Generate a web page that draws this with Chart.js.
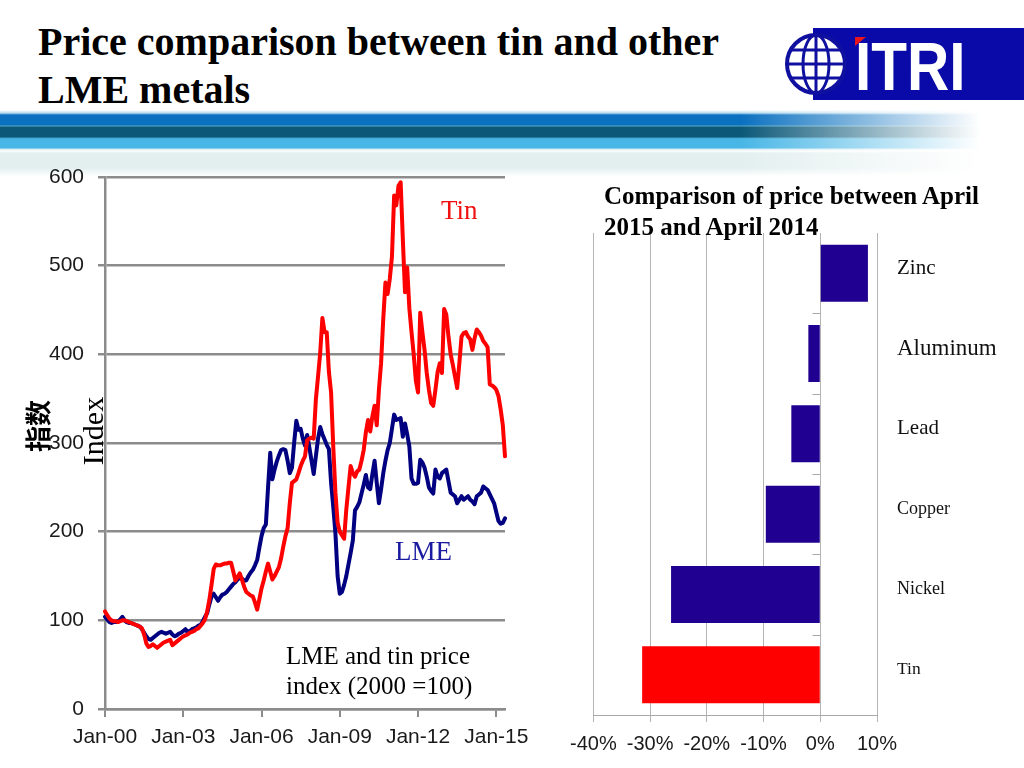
<!DOCTYPE html>
<html>
<head>
<meta charset="utf-8">
<script src="https://cdn.jsdelivr.net/npm/chart.js@4/dist/chart.umd.min.js"></script>
<style>
  body { margin: 0; background: #fff; }
  #slide { position: relative; width: 1024px; height: 768px; overflow: hidden; background: #fff; }
  .abs { position: absolute; white-space: nowrap; }
  .rot { transform: translate(-50%, -50%) rotate(-90deg); }
</style>
</head>
<body>
<div id="slide">
  <!-- header stripes -->
  <div class="abs" style="left:0;top:110px;width:1024px;height:66px;background:linear-gradient(to bottom,#fff 0px,#b8dcef 3px,#0a70c0 5px,#0a70c0 15px,#5aaac8 16px,#0b5878 17px,#0b5878 27px,#3ca0c8 28px,#48b6e6 29px,#48b6e6 38px,#cfe8f0 39px,#fff 41px,#e3efef 43px,#e3efef 58px,#fff 66px)"></div>
  <div class="abs" style="left:0;top:110px;width:1024px;height:66px;background:linear-gradient(to right,rgba(255,255,255,0) 0px,rgba(255,255,255,0) 740px,#fff 980px)"></div>

  <div class="abs" style="left:38px;top:18px;font:bold 40px 'Liberation Serif',serif;line-height:48px;color:#000">Price comparison between tin and other<br>LME metals</div>

  <!-- logo -->
  <div class="abs" style="left:813px;top:28px;width:211px;height:72px;background:#0a0aa8"></div>
  <div class="abs" style="left:855px;top:30px;font:bold 68px 'Liberation Sans',sans-serif;line-height:72px;color:#fff;transform:scaleX(0.86);transform-origin:left">ITRI</div>
  <div class="abs" style="left:855px;top:37px;width:0;height:0;border-left:11px solid #e8141e;border-bottom:9px solid transparent"></div>
  <svg class="abs" style="left:783px;top:31px" width="66" height="66" viewBox="0 0 66 66">
    <circle cx="33" cy="33" r="29" fill="#fff" stroke="#1010a0" stroke-width="4"/>
    <ellipse cx="33" cy="33" rx="13" ry="29" fill="none" stroke="#1010a0" stroke-width="3"/>
    <line x1="33" y1="4" x2="33" y2="62" stroke="#1010a0" stroke-width="3"/>
    <line x1="4" y1="33" x2="62" y2="33" stroke="#1010a0" stroke-width="3"/>
    <line x1="9" y1="19" x2="57" y2="19" stroke="#1010a0" stroke-width="3"/>
    <line x1="9" y1="47" x2="57" y2="47" stroke="#1010a0" stroke-width="3"/>
  </svg>

  <canvas id="lineChart" class="abs" width="540" height="608" style="left:0;top:160px"></canvas>
  <canvas id="barChart" class="abs" width="464" height="598" style="left:560px;top:170px"></canvas>

  <!-- left chart texts -->
  <div class="abs" style="left:441px;top:197px;font:27px 'Liberation Serif',serif;line-height:27px;color:#f01010">Tin</div>
  <div class="abs" style="left:395px;top:538px;font:27px 'Liberation Serif',serif;line-height:27px;color:#1a1aa0">LME</div>
  <div class="abs" style="left:286px;top:641px;font:25px 'Liberation Serif',serif;line-height:30px;color:#000">LME and tin price<br>index (2000 =100)</div>
  <div class="abs rot" style="left:37px;top:426px;font:bold 26px 'Noto Sans CJK SC',sans-serif;line-height:26px;color:#000">指数</div>
  <div class="abs rot" style="left:93px;top:431px;font:30px 'Liberation Serif',serif;line-height:30px;color:#000">Index</div>

  <!-- right chart title -->
  <div class="abs" style="left:604px;top:180px;font:bold 25px 'Liberation Serif',serif;line-height:31px;color:#000">Comparison of price between April<br>2015 and April 2014</div>
</div>

<script>
// index values, 2000 = 100, monthly Jan-00 .. May-15
const years = ['00','01','02','03','04','05','06','07','08','09','10','11','12','13','14','15'];
const monthNames = ['Jan','Feb','Mar','Apr','May','Jun','Jul','Aug','Sep','Oct','Nov','Dec'];

const tinIndex = [
  110,106,102,100,99,99,98,99,100,100,99,98,
  97,96,95,94,93,91,84,74,70,71,73,71,
  69,71,73,75,76,77,78,72,74,76,78,80,
  82,83,84,86,87,88,90,91,94,97,101,110,
  123,140,158,163,162,162,163,164,164,165,165,155,
  145,149,153,146,138,132,130,128,127,120,112,124,
  136,145,155,164,155,146,150,155,160,170,183,195,
  204,232,255,257,259,266,274,280,285,303,305,306,
  305,349,375,402,441,425,425,380,357,296,244,210,
  200,196,192,225,250,274,266,262,268,270,280,292,
  312,326,313,330,342,320,360,390,440,481,468,485,
  510,579,568,590,594,530,470,498,452,425,400,370,
  357,447,425,405,379,360,345,342,360,380,390,379,
  451,445,420,400,388,375,362,390,420,424,425,420,
  417,405,418,428,425,421,415,412,408,366,365,363,
  360,353,338,320,285
];

const lmeIndex = [
  104,101,98,97,98,98,99,101,104,100,98,97,
  97,96,95,94,93,90,86,82,79,78,80,82,
  84,86,87,86,85,86,87,84,82,83,85,86,
  88,90,87,88,90,91,92,94,95,99,104,108,
  118,127,130,126,122,126,129,130,132,135,138,141,
  143,146,148,147,145,145,150,154,157,162,168,182,
  195,204,208,250,289,259,270,279,286,292,293,292,
  280,266,272,300,325,315,316,305,297,309,295,280,
  265,285,305,318,310,304,298,293,255,228,198,150,
  130,132,140,150,163,176,190,224,228,233,243,253,
  264,250,248,265,280,255,232,248,266,280,292,300,
  316,332,326,327,328,307,322,310,296,260,254,254,
  255,281,278,272,262,250,246,243,270,262,260,266,
  268,270,257,244,242,240,232,236,240,236,238,240,
  236,234,231,240,242,244,251,249,247,242,237,232,
  222,212,209,210,215
];

// April 2015 vs April 2014, percent change
const metals = ['Zinc', 'Aluminum', 'Lead', 'Copper', 'Nickel', 'Tin'];
const priceChange = [8.4, -2.1, -5.1, -9.6, -26.3, -31.4];

const monthLabels = [];
years.forEach(y => monthNames.forEach(m => monthLabels.push(m + '-' + y)));
monthLabels.length = tinIndex.length;

const gridGray = '#8c8c8c';
const sans = "'Liberation Sans', Arial, sans-serif";

new Chart(document.getElementById('lineChart'), {
    type: 'line',
    data: {
        labels: monthLabels,
        datasets: [
            { label: 'Tin', data: tinIndex, borderColor: '#ff0000' },
            { label: 'LME', data: lmeIndex, borderColor: '#000080' }
        ]
    },
    options: {
        responsive: false,
        animation: false,
        layout: { padding: { top: 17, right: 35, left: 0, bottom: 0 } },
        elements: {
            point: { radius: 0 },
            line: { borderWidth: 4, tension: 0, borderJoinStyle: 'round', borderCapStyle: 'round' }
        },
        plugins: { legend: { display: false }, tooltip: { enabled: false } },
        scales: {
            x: {
                ticks: {
                    autoSkip: false,
                    maxRotation: 0,
                    padding: 8,
                    color: '#1a1a1a',
                    font: { family: sans, size: 21 },
                    callback: function (v, i) { return i % 36 === 0 ? this.getLabelForValue(v) : ''; }
                },
                grid: {
                    drawOnChartArea: false,
                    tickLength: 8,
                    lineWidth: 2,
                    color: ctx => ctx.index % 36 === 0 ? gridGray : 'rgba(0,0,0,0)'
                },
                border: { color: gridGray, width: 2.5 },
                afterFit: s => { s.height = 59; }
            },
            y: {
                min: 0,
                max: 600,
                ticks: { stepSize: 100, padding: 14, color: '#1a1a1a', font: { family: sans, size: 21 } },
                grid: { color: gridGray, lineWidth: 2.5, tickLength: 7 },
                border: { color: gridGray, width: 2.5 },
                afterFit: s => { s.width = 105; s.paddingTop = 0; s.paddingBottom = 0; }
            }
        }
    }
});

// small tick marks on the zero line between bars
const zeroTicks = {
    id: 'zeroTicks',
    afterDatasetsDraw(chart) {
        const { ctx, scales: { x, y } } = chart;
        const x0 = Math.round(x.getPixelForValue(0)) + 0.5;
        ctx.save();
        ctx.strokeStyle = '#a8a8a8';
        ctx.lineWidth = 1;
        for (let i = 0; i < metals.length - 1; i++) {
            const yb = Math.round((y.getPixelForValue(i) + y.getPixelForValue(i + 1)) / 2) + 0.5;
            ctx.beginPath();
            ctx.moveTo(x0 - 8, yb);
            ctx.lineTo(x0, yb);
            ctx.stroke();
        }
        ctx.restore();
    }
};

const labelSizes = [21, 23, 21, 18, 18, 17.5];

new Chart(document.getElementById('barChart'), {
    type: 'bar',
    data: {
        labels: metals,
        datasets: [{
            data: priceChange,
            backgroundColor: ctx => metals[ctx.dataIndex] === 'Tin' ? '#ff0000' : '#200090',
            barPercentage: 0.71,
            categoryPercentage: 1
        }]
    },
    options: {
        indexAxis: 'y',
        responsive: false,
        animation: false,
        layout: { padding: { left: 31, top: 63, right: 0, bottom: 0 } },
        plugins: { legend: { display: false }, tooltip: { enabled: false } },
        scales: {
            x: {
                min: -40,
                max: 10,
                ticks: {
                    stepSize: 10,
                    maxRotation: 0,
                    padding: 10,
                    color: '#1a1a1a',
                    font: { family: sans, size: 20 },
                    callback: v => v + '%'
                },
                grid: { color: '#b4b4b4', lineWidth: 1, tickLength: 7 },
                border: { color: '#a8a8a8', width: 1 },
                afterFit: s => { s.height = 53; }
            },
            y: {
                position: 'right',
                grid: { display: false, drawTicks: false },
                border: { display: false },
                ticks: {
                    padding: 20,
                    labelOffset: -5,
                    color: '#111',
                    font: ctx => ({ family: "'Liberation Serif', serif", size: labelSizes[ctx.index] })
                },
                afterFit: s => { s.width = 147; }
            }
        }
    },
    plugins: [zeroTicks]
});
</script>
</body>
</html>
